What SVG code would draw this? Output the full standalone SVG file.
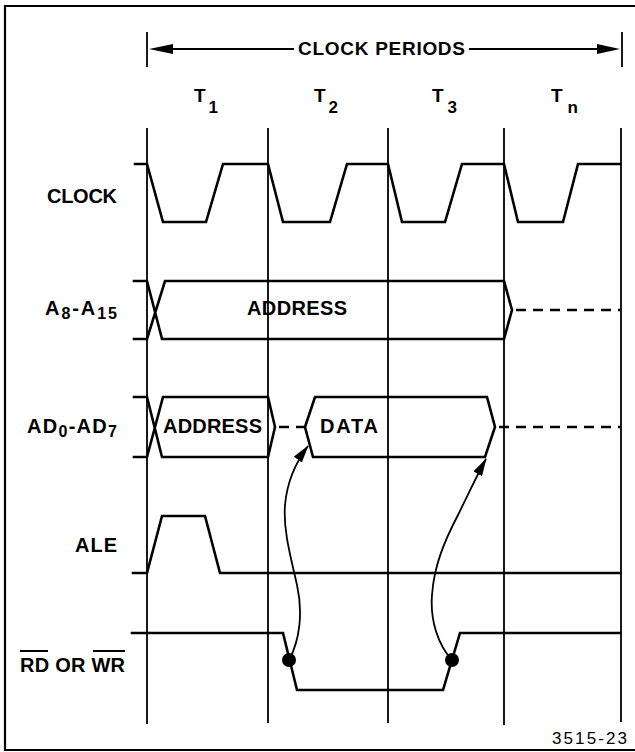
<svg xmlns="http://www.w3.org/2000/svg" width="635" height="752" viewBox="0 0 635 752">
<style>
.sig{fill:none;stroke:#000;stroke-width:2.6;stroke-linejoin:miter;stroke-linecap:square}
.dash{fill:none;stroke:#000;stroke-width:2.6;stroke-dasharray:10 7}
.grid{stroke:#000;stroke-width:1.8}
.frame{fill:none;stroke:#000;stroke-width:2.2}
.lbl{font-family:"Liberation Sans",Arial,sans-serif;font-weight:bold;font-size:20px;fill:#000}
.sub{font-size:16px}
.tl{font-family:"Liberation Sans",Arial,sans-serif;font-weight:bold;font-size:19px;fill:#000}
.tsub{font-size:17px}
.curve{fill:none;stroke:#000;stroke-width:1.8}
</style>
<defs>
<marker id="ah" viewBox="0 0 18 10" refX="17" refY="5" markerWidth="18" markerHeight="10" markerUnits="userSpaceOnUse" orient="auto">
<path d="M0,0 L18,5 L0,10 Z" fill="#000"/>
</marker>
</defs>
<rect width="635" height="752" fill="#fff"/>
<path class="frame" d="M637,6 H5 V750 H637"/>

<g id="header">
<line class="grid" x1="147" y1="32" x2="147" y2="67"/>
<line class="grid" x1="622" y1="32" x2="622" y2="67"/>
<line x1="170" y1="49" x2="294" y2="49" stroke="#000" stroke-width="1.8"/>
<line x1="469" y1="49" x2="600" y2="49" stroke="#000" stroke-width="1.8"/>
<path d="M149,49 L173,44 L173,54 Z" fill="#000"/>
<path d="M620,49 L597,44 L597,54 Z" fill="#000"/>
<text class="lbl" x="298" y="55" style="font-size:19px" textLength="167" lengthAdjust="spacing">CLOCK PERIODS</text>
<text class="tl" x="194" y="102">T<tspan class="tsub" dx="3" dy="11">1</tspan></text>
<text class="tl" x="314" y="102">T<tspan class="tsub" dx="3" dy="11">2</tspan></text>
<text class="tl" x="432" y="102">T<tspan class="tsub" dx="4" dy="11">3</tspan></text>
<text class="tl" x="551" y="102">T<tspan class="tsub" dx="5" dy="11">n</tspan></text>
</g>

<g id="grid">
<line class="grid" x1="147" y1="128" x2="147" y2="724"/>
<line class="grid" x1="268" y1="128" x2="268" y2="723"/>
<line class="grid" x1="388" y1="128" x2="388" y2="723"/>
<line class="grid" x1="504" y1="128" x2="504" y2="725"/>
<line class="grid" x1="621" y1="128" x2="621" y2="722"/>
</g>

<g id="clock">
<text class="lbl" x="47" y="203" textLength="70" lengthAdjust="spacing">CLOCK</text>
<path class="sig" d="M135,164 H147 L163,222 H206 L223,164 H268 L283,222 H330 L347,164 H388 L402,222 H445 L462,164 H504 L518,222 H563 L578,164 H620"/>
</g>

<g id="a8a15">
<text class="lbl" x="45" y="315" textLength="72" lengthAdjust="spacing">A<tspan class="sub" dy="4">8</tspan><tspan dy="-4">-A</tspan><tspan class="sub" dy="4">15</tspan></text>
<path class="sig" d="M134,281 H147 L162,339 H504 L512,310 L504,281 H165 L147,339 H134"/>
<line class="dash" x1="516" y1="310" x2="620" y2="310"/>
<text class="lbl" x="247" y="315" textLength="100" lengthAdjust="spacing">ADDRESS</text>
</g>

<g id="ad0ad7">
<text class="lbl" x="27" y="433" textLength="90" lengthAdjust="spacing">AD<tspan class="sub" dy="4">0</tspan><tspan dy="-4">-AD</tspan><tspan class="sub" dy="4">7</tspan></text>
<path class="sig" d="M134,397 H147 L162,457 H268 L275,427 L268,397 H163 L147,457 H134"/>
<text class="lbl" x="163" y="433" textLength="99" lengthAdjust="spacing">ADDRESS</text>
<line class="dash" x1="279" y1="427" x2="304" y2="427" stroke-dasharray="8 6"/>
<path class="sig" d="M305,427 L315,397 H487 L495,427 L485,457 H313 Z"/>
<line class="dash" x1="499" y1="427" x2="620" y2="427"/>
<text class="lbl" x="320" y="433" textLength="58" lengthAdjust="spacing">DATA</text>
</g>

<g id="ale">
<text class="lbl" x="75" y="552" textLength="42" lengthAdjust="spacing">ALE</text>
<path class="sig" d="M133,573 H147 L162,516 H205 L220,573 H620"/>
</g>

<g id="rdwr">
<text class="lbl" x="20" y="672" textLength="105" lengthAdjust="spacing">RD OR WR</text>
<line x1="20" y1="651" x2="48" y2="651" stroke="#000" stroke-width="2"/>
<line x1="93" y1="651" x2="125" y2="651" stroke="#000" stroke-width="2"/>
<path class="sig" d="M132,633 H283 L297,690 H443 L460,633 H620"/>
<circle cx="289" cy="660" r="7" fill="#000"/>
<circle cx="452" cy="660" r="7" fill="#000"/>
</g>

<g id="connectors">
<path class="curve" marker-end="url(#ah)" d="M289,660 C300,640 303,612 297,585 C291,558 283,530 285,505 C287,482 296,462 308,446"/>
<path class="curve" marker-end="url(#ah)" d="M452,660 C438,645 430,620 432,595 C434,565 445,540 458,515 C468,495 477,475 486,459"/>
</g>

<text x="552" y="744" font-family="'Liberation Sans',Arial,sans-serif" font-size="17" textLength="75" lengthAdjust="spacing">3515-23</text>
</svg>
